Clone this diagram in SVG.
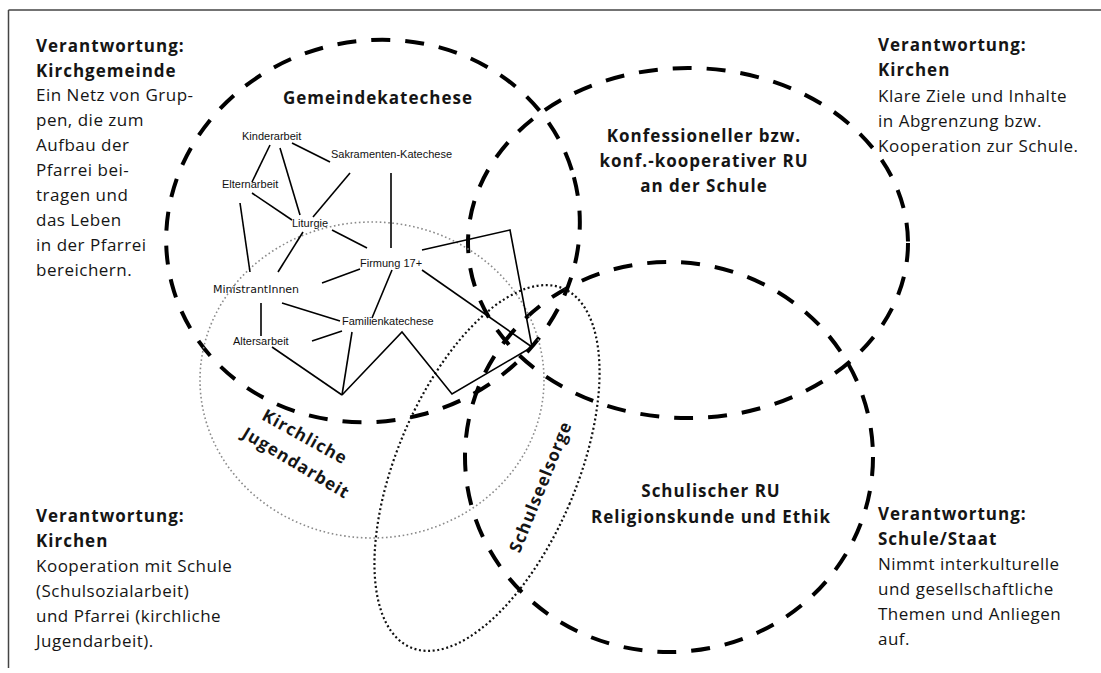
<svg xmlns="http://www.w3.org/2000/svg" width="1101" height="673" viewBox="0 0 1101 673">
<style>
.h{font-family:"Open Sans","DejaVu Sans",sans-serif;font-weight:700;font-size:17px;letter-spacing:1px;fill:#151515}
.t{font-family:"Open Sans","DejaVu Sans",sans-serif;font-size:17px;letter-spacing:0.5px;fill:#151515}
.n{font-family:"Liberation Sans",Arial,sans-serif;font-size:11px;fill:#111}
.c{font-family:"DejaVu Sans",sans-serif;font-size:11px;fill:#111}
.big{fill:none;stroke:#000;stroke-width:4;stroke-dasharray:19 15}
.gray{fill:none;stroke:#8a8a8a;stroke-width:1.6;stroke-dasharray:1.6 2.6}
.dot{fill:none;stroke:#111;stroke-width:2.2;stroke-dasharray:2 2.6}
.ln{fill:none;stroke:#000;stroke-width:1.6;stroke-linejoin:miter}
</style>
<rect width="1101" height="673" fill="#fff"/>
<g id="frame" fill="none" stroke="#444" stroke-width="1.5">
<line x1="8.5" y1="10" x2="1101" y2="10"/>
<line x1="8.5" y1="10" x2="8.5" y2="668"/>
</g>
<g id="circle-gemeinde"><ellipse class="big" cx="373" cy="231" rx="208" ry="190" transform="rotate(-15 373 231)"/>
<text class="h" x="378" y="104" text-anchor="middle">Gemeindekatechese</text></g>
<g id="circle-konfessionell"><ellipse class="big" cx="688" cy="243" rx="220" ry="175"/>
<text class="h" x="704" y="142" text-anchor="middle">Konfessioneller bzw.</text>
<text class="h" x="704" y="167" text-anchor="middle">konf.-kooperativer RU</text>
<text class="h" x="704" y="192" text-anchor="middle">an der Schule</text></g>
<g id="circle-schulisch"><ellipse class="big" cx="669" cy="457" rx="204" ry="195"/>
<text class="h" x="711" y="497" text-anchor="middle">Schulischer RU</text>
<text class="h" x="711" y="523" text-anchor="middle">Religionskunde und Ethik</text></g>
<g id="circle-jugend"><ellipse class="gray" cx="372" cy="380" rx="172" ry="158"/>
<text class="h" transform="translate(302,442) rotate(29)" text-anchor="middle">Kirchliche</text>
<text class="h" transform="translate(293,468) rotate(31)" text-anchor="middle">Jugendarbeit</text></g>
<g id="ellipse-schulseelsorge"><ellipse class="dot" cx="487" cy="468" rx="90" ry="195" transform="rotate(23 487 468)"/>
<text class="h" transform="translate(546,489) rotate(-68)" text-anchor="middle">Schulseelsorge</text></g>
<g id="connectors" class="ln">
<line x1="270" y1="145" x2="252" y2="182"/>
<line x1="280" y1="148" x2="300" y2="215"/>
<line x1="292" y1="143" x2="330" y2="162"/>
<line x1="252" y1="193" x2="292" y2="220"/>
<line x1="350" y1="173" x2="313" y2="217"/>
<line x1="332" y1="230" x2="367" y2="248"/>
<line x1="391" y1="173" x2="391" y2="248"/>
<line x1="240" y1="203" x2="250" y2="272"/>
<line x1="303" y1="232" x2="278" y2="272"/>
<line x1="322" y1="283" x2="360" y2="269"/>
<line x1="282" y1="303" x2="340" y2="321"/>
<line x1="261" y1="303" x2="261" y2="336"/>
<line x1="312" y1="341" x2="342" y2="331"/>
<line x1="392" y1="270" x2="372" y2="318"/>
<line x1="272" y1="347" x2="342" y2="395"/>
<line x1="352" y1="332" x2="342" y2="395"/>
<polyline points="342,395 402,332 452,394 532,347"/>
<polyline points="422,250 510,230 532,347"/>
<line x1="422" y1="270" x2="532" y2="347"/>
</g>
<g id="node-kinderarbeit"><text class="n" x="242" y="140">Kinderarbeit</text></g>
<g id="node-sakramenten"><text class="n" x="331" y="158">Sakramenten-Katechese</text></g>
<g id="node-elternarbeit"><text class="n" x="222" y="188">Elternarbeit</text></g>
<g id="node-liturgie"><text class="n" x="292" y="227">Liturgie</text></g>
<g id="node-firmung"><text class="n" x="360" y="267">Firmung 17+</text></g>
<g id="node-ministranten"><text class="c" x="213" y="293">MinistrantInnen</text></g>
<g id="node-familien"><text class="n" x="342" y="325">Familienkatechese</text></g>
<g id="node-alters"><text class="n" x="233" y="345">Altersarbeit</text></g>
<g id="text-kirchgemeinde">
<text class="h" x="36" y="52">Verantwortung:</text>
<text class="h" x="36" y="77">Kirchgemeinde</text>
<text class="t" x="36" y="101">Ein Netz von Grup-</text>
<text class="t" x="36" y="126">pen, die zum</text>
<text class="t" x="36" y="151">Aufbau der</text>
<text class="t" x="36" y="176">Pfarrei bei-</text>
<text class="t" x="36" y="201">tragen und</text>
<text class="t" x="36" y="226">das Leben</text>
<text class="t" x="36" y="251">in der Pfarrei</text>
<text class="t" x="36" y="276">bereichern.</text>
</g>
<g id="text-kirchen-top">
<text class="h" x="878" y="51">Verantwortung:</text>
<text class="h" x="878" y="76">Kirchen</text>
<text class="t" x="878" y="102">Klare Ziele und Inhalte</text>
<text class="t" x="878" y="127">in Abgrenzung bzw.</text>
<text class="t" x="878" y="152">Kooperation zur Schule.</text>
</g>
<g id="text-kirchen-bottom">
<text class="h" x="36" y="522">Verantwortung:</text>
<text class="h" x="36" y="547">Kirchen</text>
<text class="t" x="36" y="572">Kooperation mit Schule</text>
<text class="t" x="36" y="597">(Schulsozialarbeit)</text>
<text class="t" x="36" y="622">und Pfarrei (kirchliche</text>
<text class="t" x="36" y="647">Jugendarbeit).</text>
</g>
<g id="text-schule">
<text class="h" x="878" y="520">Verantwortung:</text>
<text class="h" x="878" y="545">Schule/Staat</text>
<text class="t" x="878" y="570">Nimmt interkulturelle</text>
<text class="t" x="878" y="595">und gesellschaftliche</text>
<text class="t" x="878" y="620">Themen und Anliegen</text>
<text class="t" x="878" y="645">auf.</text>
</g>
</svg>
